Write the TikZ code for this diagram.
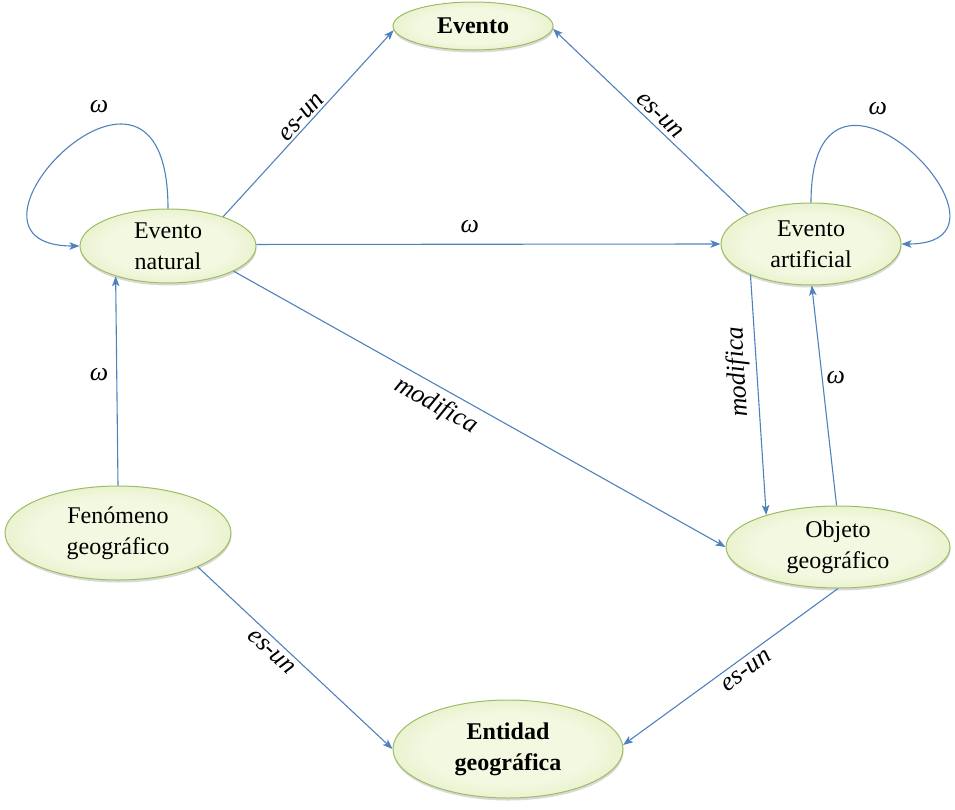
\documentclass[tikz,border=0pt]{standalone}
\usepackage{fontspec}
\setmainfont{Liberation Serif}
\usetikzlibrary{shapes.geometric,arrows.meta,shadows}
\definecolor{arr}{RGB}{79,129,189}
\definecolor{bord}{RGB}{158,189,98}
\definecolor{fin}{RGB}{243,248,224}
\definecolor{fout}{RGB}{200,223,152}
\pgfdeclareradialshading{nodeshade}{\pgfpoint{0bp}{0bp}}{color(0bp)=(fin); color(18bp)=(fin); color(50bp)=(fout)}
\tikzset{
  ent/.style={ellipse, draw=bord, line width=1pt, shading=nodeshade, inner sep=0pt,
    align=center, font=\fontsize{24}{31}\selectfont, text=black,
    drop shadow={shadow xshift=0.5pt, shadow yshift=-2.5pt, opacity=0.25, fill=black!60}},
  conn/.style={draw=arr, line width=1.1pt, -{Stealth[length=10pt,width=7.5pt,inset=2.5pt]}},
  lab/.style={font=\fontsize{26}{30}\selectfont\itshape, inner sep=1pt, text=black}
}
\begin{document}
\begin{tikzpicture}[x=1pt,y=1pt]
\useasboundingbox (0,0) rectangle (955,-809);
\node[ent, minimum width=160pt, minimum height=48pt, font=\fontsize{24}{31}\selectfont\bfseries] (ev) at (473,-26) {Evento};
\node[ent, minimum width=176pt, minimum height=74pt] (en) at (168,-246) {Evento\\natural};
\node[ent, minimum width=180pt, minimum height=82pt] (ea) at (811,-244) {Evento\\artificial};
\node[ent, minimum width=226pt, minimum height=94pt] (fg) at (118,-533) {Fenómeno\\geográfico};
\node[ent, minimum width=224pt, minimum height=82pt] (og) at (838,-547) {Objeto\\geográfico};
\node[ent, minimum width=230pt, minimum height=98pt, font=\fontsize{24}{31}\selectfont\bfseries] (eg) at (508,-749) {Entidad\\geográfica};

\draw[conn] (en.28) -- node[lab, sloped, above=1pt, pos=0.5]{es-un} (ev.183);
\draw[conn] (ea.155) -- node[lab, sloped, above=3pt, pos=0.49]{es-un} (ev.-2);
\draw[conn] (en.1) -- node[lab, above=10pt, pos=0.46]{ω} (ea.180);
\draw[conn] (en.-21) -- node[lab, sloped, below=5pt, pos=0.43]{modifica} (og.180);
\draw[conn] (ea.-153) -- node[lab, pos=0.4, rotate=93, anchor=south, inner sep=6pt]{modifica} (og.156);
\draw[conn] (og.92) -- node[lab, pos=0.58, right=3pt]{ω} (ea.-89);
\draw[conn] (fg.90) -- node[lab, pos=0.53, left=7pt]{ω} (en.-150);
\draw[conn] (fg.-23) -- node[lab, sloped, below=4pt, pos=0.42]{es-un} (eg.180);
\draw[conn] (og.-90) -- node[lab, sloped, below=5pt, pos=0.46]{es-un} (eg.2);
\draw[conn] (en.90) .. controls +(0,210) and +(-150,0) .. node[lab, pos=0.38, above=14pt]{ω} (en.180);
\draw[conn] (ea.90) .. controls +(0,195) and +(140,0) .. node[lab, pos=0.38, above=14pt]{ω} (ea.0);
\end{tikzpicture}
\end{document}
